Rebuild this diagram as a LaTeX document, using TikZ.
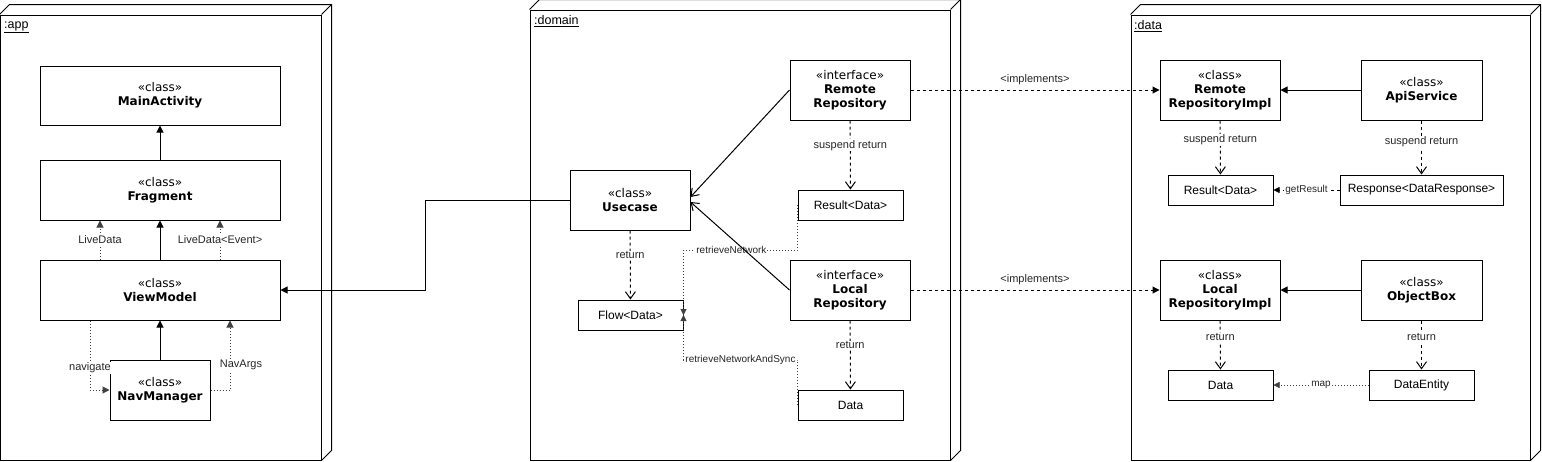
\documentclass[tikz,border=0pt]{standalone}
\usepackage{fontspec}
\setmainfont{Liberation Sans}
\newfontfamily\clsfont{DejaVu Sans}
\usetikzlibrary{arrows.meta}

\begin{document}
\begin{tikzpicture}[
    x=1pt, y=-1pt,
    modframe/.style={rectangle, draw, line width=1pt, inner sep=0pt},
    modname/.style={anchor=west, inner sep=0pt, font=\fontsize{12.5}{14}\selectfont},
    cls/.style={
        rectangle, draw, fill=white, line width=1pt,
        minimum width=120pt, minimum height=60pt, inner sep=0pt,
        align=center, font=\clsfont\fontsize{12}{14}\selectfont
    },
    txtbox/.style={
        rectangle, draw, fill=white, line width=1pt,
        minimum width=105pt, minimum height=30pt, inner sep=0pt,
        font=\fontsize{12}{14}\selectfont
    },
    lbl/.style={fill=white, inner sep=1pt, text=black!85, font=\fontsize{11}{13}\selectfont},
    slbl/.style={lbl, font=\fontsize{10}{12}\selectfont},
    blk/.style={-{Triangle[length=7pt,width=7pt]}, line width=1pt},
    opn/.style={-{Straight Barb[length=7pt,width=10pt]}, line width=1pt},
    dsh/.style={dash pattern=on 3pt off 3pt},
    dotln/.style={dash pattern=on 1pt off 2pt, black!75}
]

\fill[white] (0,0) rectangle (1542,461);
\useasboundingbox (0,0) rectangle (1542,461);

% modules
\node[modframe, minimum width=321pt, minimum height=445pt] (appbox) at (160.5,237.5) {};
\node[modframe, minimum width=420pt, minimum height=450pt] (dombox) at (740,235) {};
\node[modframe, minimum width=399pt, minimum height=445pt] (databox) at (1330.5,237.5) {};
\foreach \b in {appbox,dombox,databox} {
    \draw[line width=1pt] (\b.north west) -- ++(10,-10) -| ([shift={(10,-10)}]\b.south east) -- (\b.south east);
    \draw[line width=1pt] ([shift={(10,-10)}]\b.north east) -- (\b.north east);
}
\node[modname] (applbl) at (4,27) {\underline{:app}};
\node[modname] (domlbl) at (534,21) {\underline{:domain}};
\node[modname] (datalbl) at (1134,26) {\underline{:data}};

% :app
\node[cls, minimum width=240pt, minimum height=59pt] (main) at (160,95.5) {«class»\\\textbf{MainActivity}};
\node[cls, minimum width=240pt] (frag) at (160,190) {«class»\\\textbf{Fragment}};
\node[cls, minimum width=240pt] (vm) at (160,290) {«class»\\\textbf{ViewModel}};
\node[cls, minimum width=100pt] (nav) at (160,390) {«class»\\\textbf{NavManager}};

\draw[blk] (frag) -- (main);
\draw[blk] (vm) -- (frag);
\draw[blk] (nav) -- (vm);
\draw[blk, dotln] ([xshift=-60pt]vm.north) -- ([xshift=-60pt]frag.south) node[lbl, midway] {LiveData};
\draw[blk, dotln] ([xshift=60pt]vm.north) -- ([xshift=60pt]frag.south) node[lbl, midway] {LiveData<Event>};
\draw[blk, dotln] ([xshift=-70pt]vm.south) |- (nav.west) node[lbl, pos=0.34] {navigate};
\draw[blk, dotln] (nav.east) -| ([xshift=70pt]vm.south) node[lbl, pos=0.68, xshift=11pt] {NavArgs};

% :domain
\node[cls] (remote) at (850,90) {«interface»\\\textbf{Remote}\\\textbf{Repository}};
\node[cls] (local) at (850,290) {«interface»\\\textbf{Local}\\\textbf{Repository}};
\node[cls] (usecase) at (630,200) {«class»\\\textbf{Usecase}};
\node[txtbox] (result) at (850.5,205) {Result<Data>};
\node[txtbox] (flow) at (630.5,315) {Flow<Data>};
\node[txtbox] (ddata) at (850.5,405) {Data};

\draw[blk] (usecase.west) -- ++(-144,0) |- (vm.east);
\draw[opn, dsh] (remote) -- (result) node[lbl, pos=0.36] {suspend return};
\draw[opn, dsh] (usecase) -- (flow) node[lbl, pos=0.36] {return};
\draw[opn, dsh] (local) -- (ddata) node[lbl, pos=0.36] {return};
\draw[-{Triangle[length=6pt,width=6pt]}, dotln] (result.west) -- ++(0,45) -| (flow.east) node[slbl, pos=0.29] {retrieveNetwork};
\draw[-{Triangle[length=6pt,width=6pt]}, dotln] (ddata.west) -- ++(0,-45) -| (flow.east) node[slbl, pos=0.25] {retrieveNetworkAndSync};
\draw[opn] (remote.west) -- ([yshift=3pt]usecase.east);
\draw[opn] (local.west) -- ([yshift=-2pt]usecase.east);

% :data
\node[cls] (rimpl) at (1220,90) {«class»\\\textbf{Remote}\\\textbf{RepositoryImpl}};
\node[cls, minimum width=121pt] (api) at (1421.5,90) {«class»\\\textbf{ApiService}};
\node[cls] (limpl) at (1220,290) {«class»\\\textbf{Local}\\\textbf{RepositoryImpl}};
\node[cls, minimum width=121pt] (obox) at (1421.5,290) {«class»\\\textbf{ObjectBox}};
\node[txtbox] (rres) at (1220.5,190) {Result<Data>};
\node[txtbox, minimum width=163pt] (resp) at (1421.5,190) {Response<DataResponse>};
\node[txtbox] (ldata) at (1220.5,385) {Data};
\node[txtbox] (dent) at (1421.5,385) {DataEntity};

\draw[blk, dsh] (remote) -- (rimpl) node[midway, above=1pt, font=\fontsize{11}{13}\selectfont, text=black!85] {<implements>};
\draw[blk, dsh] (local) -- (limpl) node[midway, above=1pt, font=\fontsize{11}{13}\selectfont, text=black!85] {<implements>};
\draw[blk] (api) -- (rimpl);
\draw[blk] (obox) -- (limpl);
\draw[opn, dsh] (rimpl) -- (rres) node[lbl, pos=0.36] {suspend return};
\draw[opn, dsh] (api) -- (resp) node[lbl, pos=0.4] {suspend return};
\draw[opn, dsh] (limpl) -- (ldata) node[lbl, pos=0.34] {return};
\draw[opn, dsh] (obox) -- (dent) node[lbl, pos=0.34] {return};
\draw[-{Triangle[length=6pt,width=6pt]}, dsh, line width=0.8pt] (resp) -- (rres) node[slbl, midway] {getResult};
\draw[-{Triangle[length=6pt,width=6pt]}, dotln] (dent) -- (ldata) node[slbl, midway] {map};

\end{tikzpicture}
\end{document}
